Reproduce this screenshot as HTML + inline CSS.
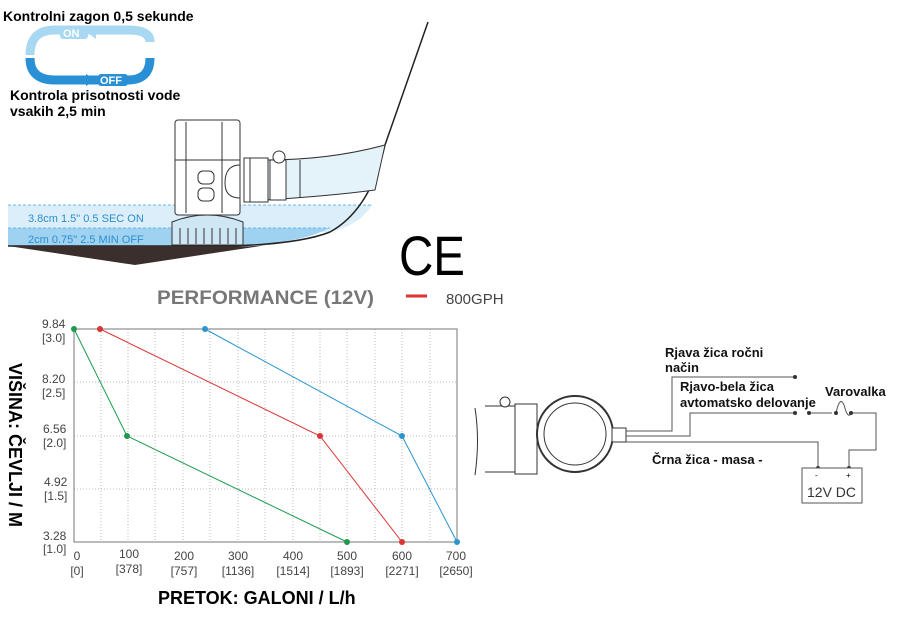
<!DOCTYPE html>
<html><head><meta charset="utf-8"><style>
body{margin:0;background:#fff;width:906px;height:630px;overflow:hidden;font-family:"Liberation Sans",sans-serif}
svg{display:block}
</style></head><body>
<svg width="906" height="630" viewBox="0 0 906 630" xmlns="http://www.w3.org/2000/svg" font-family="Liberation Sans, sans-serif">
<text x="3" y="21" font-size="14" font-weight="bold">Kontrolni zagon 0,5 sekunde</text>
<text x="10" y="100" font-size="14" font-weight="bold">Kontrola prisotnosti vode</text>
<text x="10" y="116" font-size="14" font-weight="bold">vsakih 2,5 min</text>
<path d="M150 42 Q150 30 128 30 L55 30 Q30 30 30 55" stroke="#a9d8f2" stroke-width="9" fill="none"/>
<path d="M30 58 Q30 80 55 80 L128 80 Q150 80 150 58" stroke="#2a90d6" stroke-width="9" fill="none"/>
<rect x="60" y="27" width="28" height="12" rx="3" fill="#a9d8f2"/>
<text x="63" y="37" font-size="11" fill="#fff" font-weight="bold">ON</text>
<path d="M88 33 L96 27 L96 39Z" fill="#a9d8f2"/>
<rect x="98" y="74" width="30" height="12" rx="3" fill="#2a90d6"/>
<text x="100" y="84" font-size="11" fill="#fff" font-weight="bold">OFF</text>
<path d="M86 74 L96 80 L86 86Z" fill="#2a90d6"/>
<path d="M8 205 L372 205 Q360 225 330 232 L8 232Z" fill="#dbeef9"/>
<path d="M8 228 L330 228 Q300 244 230 246 L8 246Z" fill="#9fd2f0"/>
<path d="M8 205 H372" stroke="#6ab8e6" stroke-dasharray="3 2"/>
<path d="M8 228 H330" stroke="#6ab8e6" stroke-dasharray="3 2"/>
<text x="28" y="222" font-size="11" fill="#2b8fd0">3.8cm 1.5"  0.5 SEC  ON</text>
<text x="28" y="243" font-size="11" fill="#2b8fd0">2cm 0.75"  2.5 MIN  OFF</text>
<path d="M8 246 L230 246 Q300 244 330 232 Q370 210 385 145 L428 22" stroke="#222" stroke-width="1.5" fill="none"/>
<path d="M8 246 L135 265 L300 240 Q260 248 230 246Z" fill="#3a2f2c"/>
<path d="M265 160 Q330 160 385 145 L375 190 Q330 196 265 200Z" fill="#e4f2fa" stroke="#333"/>
<line x1="300" y1="160" x2="300" y2="198" stroke="#333"/>
<rect x="175" y="120" width="65" height="95" rx="3" fill="#fff" stroke="#333"/>
<line x1="175" y1="160" x2="240" y2="160" stroke="#333"/>
<line x1="186" y1="122" x2="186" y2="213" stroke="#333"/><line x1="222" y1="122" x2="222" y2="213" stroke="#333"/>
<rect x="198" y="171" width="16" height="13" rx="5" fill="none" stroke="#333"/>
<rect x="198" y="188" width="16" height="13" rx="5" fill="none" stroke="#333"/>
<path d="M240 165 Q225 165 225 183 Q225 198 240 198Z" fill="#fff" stroke="#333"/>
<rect x="244" y="158" width="24" height="44" fill="#fff" stroke="#333"/>
<line x1="250" y1="158" x2="250" y2="202" stroke="#333"/>
<rect x="270" y="160" width="16" height="40" fill="#fff" stroke="#333"/>
<circle cx="279" cy="157" r="6" fill="#fff" stroke="#333"/>
<path d="M172 222 Q207 208 243 222 L243 245 L172 245Z" fill="#cfe6f4" stroke="#333"/>
<g stroke="#333"><line x1="180" y1="228" x2="180" y2="244"/><line x1="188" y1="228" x2="188" y2="244"/><line x1="196" y1="228" x2="196" y2="244"/><line x1="204" y1="228" x2="204" y2="244"/><line x1="212" y1="228" x2="212" y2="244"/><line x1="220" y1="228" x2="220" y2="244"/><line x1="228" y1="228" x2="228" y2="244"/><line x1="236" y1="228" x2="236" y2="244"/></g>
<text x="399" y="275" font-size="56" textLength="66" lengthAdjust="spacingAndGlyphs">CE</text>
<text x="157" y="304" font-size="19" font-weight="bold" fill="#777" textLength="217" lengthAdjust="spacingAndGlyphs">PERFORMANCE (12V)</text>
<line x1="406" y1="296" x2="427" y2="296" stroke="#d33" stroke-width="3"/>
<text x="446" y="304" font-size="15" fill="#444">800GPH</text>
<g stroke="#bbb" stroke-dasharray="1 2">
<line x1="74" y1="382" x2="457" y2="382"/><line x1="74" y1="436" x2="457" y2="436"/><line x1="74" y1="489" x2="457" y2="489"/>
<line x1="101" y1="329" x2="101" y2="542"/><line x1="128" y1="329" x2="128" y2="542"/><line x1="155" y1="329" x2="155" y2="542"/><line x1="183" y1="329" x2="183" y2="542"/><line x1="210" y1="329" x2="210" y2="542"/><line x1="238" y1="329" x2="238" y2="542"/><line x1="265" y1="329" x2="265" y2="542"/><line x1="293" y1="329" x2="293" y2="542"/><line x1="320" y1="329" x2="320" y2="542"/><line x1="347" y1="329" x2="347" y2="542"/><line x1="375" y1="329" x2="375" y2="542"/><line x1="402" y1="329" x2="402" y2="542"/><line x1="430" y1="329" x2="430" y2="542"/>
</g>
<rect x="74" y="329" width="383" height="213" fill="none" stroke="#777"/>
<polyline points="74,329 127,436 347,542" fill="none" stroke="#1e9a4e"/>
<polyline points="100,329 320,436 402,542" fill="none" stroke="#d33"/>
<polyline points="205,329 402,436 457,542" fill="none" stroke="#2a95cf"/>
<g fill="#1e9a4e"><circle cx="74" cy="329" r="3"/><circle cx="127" cy="436" r="3"/><circle cx="347" cy="542" r="3"/></g>
<g fill="#d33"><circle cx="100" cy="329" r="3"/><circle cx="320" cy="436" r="3"/><circle cx="402" cy="542" r="3"/></g>
<g fill="#2a95cf"><circle cx="205" cy="329" r="3"/><circle cx="402" cy="436" r="3"/><circle cx="457" cy="542" r="3"/></g>
<g font-size="12" fill="#444">
<text x="42" y="328">9.84</text><text x="42" y="342">[3.0]</text>
<text x="42" y="383">8.20</text><text x="42" y="397">[2.5]</text>
<text x="43" y="433">6.56</text><text x="43" y="447">[2.0]</text>
<text x="44" y="486">4.92</text><text x="44" y="500">[1.5]</text>
<text x="43" y="540">3.28</text><text x="43" y="553">[1.0]</text>
</g>
<g font-size="12" fill="#444" text-anchor="middle">
<text x="77" y="560">0</text><text x="77" y="575">[0]</text>
<text x="129" y="558">100</text><text x="129" y="573">[378]</text>
<text x="184" y="560">200</text><text x="184" y="575">[757]</text>
<text x="238" y="560">300</text><text x="238" y="575">[1136]</text>
<text x="293" y="560">400</text><text x="293" y="575">[1514]</text>
<text x="347" y="560">500</text><text x="347" y="575">[1893]</text>
<text x="402" y="560">600</text><text x="402" y="575">[2271]</text>
<text x="456" y="560">700</text><text x="456" y="575">[2650]</text>
</g>
<text x="158" y="604" font-size="18" font-weight="bold">PRETOK: GALONI / L/h</text>
<text transform="translate(9,363) rotate(90)" font-size="18" font-weight="bold">VIŠINA: ČEVLJI / M</text>
<path d="M475 408 Q480 440 475 475 M485 406 L515 406 M485 472 L515 472" stroke="#333" fill="none"/>
<circle cx="505" cy="402" r="5" fill="#fff" stroke="#333"/>
<rect x="515" y="404" width="22" height="70" fill="#fff" stroke="#333"/>
<circle cx="575" cy="434" r="38" fill="#fff" stroke="#333" stroke-width="2"/>
<circle cx="575" cy="434" r="31" fill="#fff" stroke="#333"/>
<rect x="612" y="428" width="14" height="14" fill="#fff" stroke="#333"/>
<g stroke="#555" fill="none">
<polyline points="626,431 672,431 672,377 795,377"/>
<polyline points="626,436 690,436 690,413 795,413"/>
<polyline points="626,442 818,442 818,468"/>
<polyline points="810,413 832,413"/>
<path d="M836 413 Q840 395 844 405 Q848 420 851 413 L876 413 L876 450 L849 450 L849 468"/>
</g>
<g fill="#333"><circle cx="795" cy="377" r="2"/><circle cx="795" cy="413" r="2"/><circle cx="809" cy="413" r="2"/><circle cx="836" cy="413" r="2"/><circle cx="851" cy="413" r="2"/><circle cx="818" cy="468" r="2"/><circle cx="849" cy="468" r="2"/></g>
<rect x="802" y="468" width="60" height="35" fill="#fff" stroke="#555"/>
<text x="815" y="478" font-size="8">-</text><text x="846" y="478" font-size="8">+</text>
<text x="807" y="497" font-size="14" fill="#333">12V DC</text>
<g font-size="13" font-weight="bold" fill="#111">
<text x="665" y="357">Rjava žica ročni</text><text x="665" y="372">način</text>
<text x="680" y="391">Rjavo-bela žica</text><text x="680" y="407">avtomatsko delovanje</text>
<text x="825" y="396">Varovalka</text>
<text x="652" y="464">Črna žica - masa -</text>
</g>
</svg>
</body></html>
